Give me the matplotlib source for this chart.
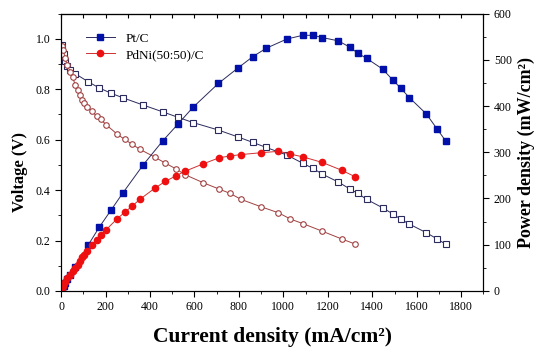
import matplotlib
matplotlib.use("Agg")
import matplotlib.pyplot as plt
from matplotlib.ticker import MultipleLocator

plt.rcParams["font.family"] = ["Liberation Serif", "DejaVu Serif"]

# Pt/C: current density (mA/cm2), voltage (V), power density (mW/cm2)
i_pt = [5, 12, 18, 27, 40, 63, 123, 172, 225, 278, 370, 458, 528, 593, 708, 795,
        863, 923, 1016, 1088, 1133, 1176, 1247, 1300, 1335, 1375, 1446, 1493,
        1529, 1567, 1643, 1692, 1731]
v_pt = [0.976, 0.940, 0.912, 0.893, 0.878, 0.862, 0.829, 0.805, 0.784, 0.766,
        0.737, 0.710, 0.688, 0.668, 0.638, 0.611, 0.589, 0.569, 0.539, 0.506,
        0.486, 0.463, 0.432, 0.404, 0.387, 0.363, 0.330, 0.305, 0.284, 0.265,
        0.231, 0.206, 0.185]
p_pt = [5, 11, 17, 25, 34, 51, 100, 138, 175, 212, 273, 325, 362, 397, 449, 482,
        507, 525, 545, 553, 553, 548, 541, 527, 514, 503, 480, 456, 438, 418,
        383, 350, 324]

# PdNi(50:50)/C
i_pd = [3, 10, 18, 28, 41, 52, 63, 75, 86, 96, 105, 118, 140, 160, 179, 202, 252,
        286, 321, 354, 421, 469, 517, 558, 640, 711, 760, 810, 899, 978, 1032,
        1088, 1175, 1263, 1323]
v_pd = [0.970, 0.955, 0.925, 0.895, 0.870, 0.850, 0.818, 0.795, 0.776, 0.758,
        0.745, 0.730, 0.714, 0.692, 0.680, 0.660, 0.622, 0.601, 0.581, 0.562,
        0.531, 0.507, 0.484, 0.461, 0.429, 0.404, 0.387, 0.363, 0.334, 0.310,
        0.285, 0.267, 0.237, 0.206, 0.186]
p_pd = [5, 11, 20, 27, 35, 43, 49, 57, 65, 73, 78, 87, 99, 110, 120, 132, 156,
        170, 184, 198, 222, 237, 249, 259, 275, 288, 292, 295, 299, 302, 296,
        290, 278, 261, 247]

fig = plt.figure(figsize=(5.5, 3.57), dpi=100)
ax = fig.add_axes([0.111, 0.185, 0.768, 0.777])
ax2 = ax.twinx()

# voltage curves (open markers)
ax.plot(i_pt, v_pt, "-", color="#2b2b5e", lw=0.7, marker="s", ms=4,
        mfc="white", mec="#2b2b5e", mew=0.8)
ax.plot(i_pd, v_pd, "-", color="#a04040", lw=0.7, marker="o", ms=4,
        mfc="white", mec="#a04040", mew=0.8)

# power curves (filled markers)
ax2.plot(i_pt, p_pt, "-", color="#2b2b5e", lw=0.7, marker="s", ms=4.5,
         mfc="#0010a8", mec="#0010a8", label="Pt/C")
ax2.plot(i_pd, p_pd, "-", color="#d03030", lw=0.7, marker="o", ms=4.5,
         mfc="#ee1010", mec="#ee1010", label="PdNi(50:50)/C")

ax.set_xlim(0, 1900)
ax.set_ylim(0, 1.1)
ax2.set_ylim(0, 600)

ax.xaxis.set_major_locator(MultipleLocator(200))
ax.xaxis.set_minor_locator(MultipleLocator(100))
ax.yaxis.set_major_locator(MultipleLocator(0.2))
ax.yaxis.set_minor_locator(MultipleLocator(0.1))
ax.yaxis.set_major_formatter(plt.FuncFormatter(lambda v, p: "%.1f" % v))
ax2.yaxis.set_major_locator(MultipleLocator(100))
ax2.yaxis.set_minor_locator(MultipleLocator(50))

ax.tick_params(which="major", direction="out", length=4, labelsize=8.5)
ax.tick_params(which="minor", direction="out", length=2.5)
ax2.tick_params(which="major", direction="out", length=4, labelsize=8.5)
ax2.tick_params(which="minor", direction="out", length=2.5)

top = ax.secondary_xaxis("top")
top.xaxis.set_major_locator(MultipleLocator(100))
top.tick_params(direction="in", length=3, labeltop=False)

ax.set_xlabel("Current density (mA/cm²)", fontsize=15.5,
              fontweight="bold", labelpad=10)
ax.set_ylabel("Voltage (V)", fontsize=12, fontweight="bold")
ax.yaxis.set_label_coords(-0.078, 0.43)
ax2.set_ylabel("Power density (mW/cm²)", fontsize=13,
               fontweight="bold", labelpad=4)

ax2.legend(loc="upper left", bbox_to_anchor=(0.04, 0.96), frameon=False,
           fontsize=9.5, handlelength=2.2, borderaxespad=0.2, labelspacing=0.3)

fig.savefig("out.png", dpi=100)
